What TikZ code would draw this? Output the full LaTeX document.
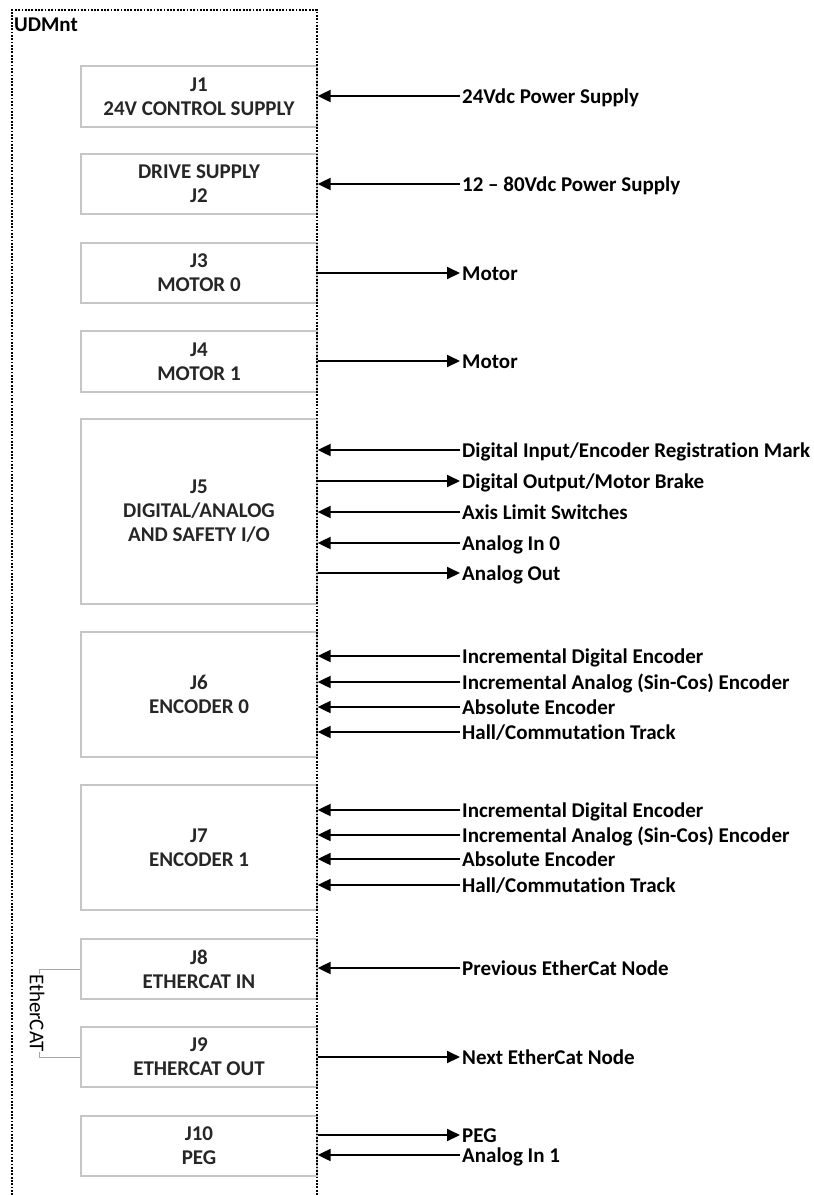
\documentclass[tikz,border=0pt]{standalone}
\usepackage{fontspec}
\setmainfont[Ligatures=NoCommon]{Carlito}
\usetikzlibrary{arrows.meta}

\tikzset{
  jbox/.style={draw=gray!45, line width=1.3pt, minimum width=236pt, inner sep=0pt,
    align=center, text=black!85},
  sig/.style={anchor=west, inner xsep=2pt, inner ysep=0pt, text height=14pt, text depth=0pt},
  wire/.style={line width=2pt, -{Triangle[length=13pt,width=12pt]}},
}

\begin{document}
\begin{tikzpicture}[x=1pt, y=-1pt, font=\fontsize{21}{24}\selectfont\bfseries]
                \useasboundingbox (0,0) rectangle (814,1195);

                % Connectors of the drive
                \node[jbox, minimum height=61pt]  (j1)  at (199,96.5)  {J1\\24V CONTROL SUPPLY};
                \node[jbox, minimum height=60pt]  (j2)  at (199,184)   {DRIVE SUPPLY\\J2};
                \node[jbox, minimum height=60pt]  (j3)  at (199,273)   {J3\\MOTOR 0};
                \node[jbox, minimum height=61pt]  (j4)  at (199,361.5) {J4\\MOTOR 1};
                \node[jbox, minimum height=185pt] (j5)  at (199,511.5) {J5\\DIGITAL/ANALOG\\AND SAFETY I/O};
                \node[jbox, minimum height=125pt] (j6)  at (199,694.5) {J6\\ENCODER 0};
                \node[jbox, minimum height=125pt] (j7)  at (199,847.5) {J7\\ENCODER 1};
                \node[jbox, minimum height=60pt]  (j8)  at (199,969)   {J8\\ETHERCAT IN};
                \node[jbox, minimum height=60pt]  (j9)  at (199,1057)  {J9\\ETHERCAT OUT};
                \node[jbox, minimum height=60pt]  (j10) at (199,1146)  {J10\\PEG};

                % Drive outline
                \draw[line width=1.8pt, dash pattern=on 1.8pt off 1.5pt]
                    (12,1195) -- (12,10) -- (317,10) -- (317,1195);
                \node[anchor=base west, inner sep=0pt] (udm) at (14,31) {UDMnt};

                % EtherCAT bracket
                \draw[gray!70, line width=1pt] (j8.west) -- ++(-41,0) |- (j9.west);
                \node[rotate=-90, fill=white, inner sep=0.5pt, font=\fontsize{21}{24}\selectfont]
                    (ecat) at (37,1013) {EtherCAT};

                % Signals going into the drive
                \foreach \n/\b/\y/\txt in {1/j1/96/{24Vdc Power Supply},
                                           2/j2/184/{12 – 80Vdc Power Supply},
                                           3/j5/450/{Digital Input/Encoder Registration Mark},
                                           4/j5/512/{Axis Limit Switches},
                                           5/j5/543/{Analog In 0},
                                           6/j6/656/{Incremental Digital Encoder},
                                           7/j6/682/{Incremental Analog (Sin-Cos) Encoder},
                                           8/j6/707/{Absolute Encoder},
                                           9/j6/732/{Hall/Commutation Track},
                                           10/j7/810/{Incremental Digital Encoder},
                                           11/j7/835/{Incremental Analog (Sin-Cos) Encoder},
                                           12/j7/859/{Absolute Encoder},
                                           13/j7/885/{Hall/Commutation Track},
                                           14/j8/968/{Previous EtherCat Node},
                                           15/j10/1155/{Analog In 1}}{
                    \node[sig] (in\n) at (460,\y) {\txt};
                    \draw[wire] (in\n.west) -- (\b.east |- in\n.west);
                }

                % Signals coming out of the drive
                \foreach \n/\b/\y/\txt in {1/j3/273/{Motor},
                                           2/j4/361/{Motor},
                                           3/j5/481/{Digital Output/Motor Brake},
                                           4/j5/573/{Analog Out},
                                           5/j9/1057/{Next EtherCat Node},
                                           6/j10/1135/{PEG}}{
                    \node[sig] (out\n) at (460,\y) {\txt};
                    \draw[wire] (\b.east |- out\n.west) -- (out\n.west);
                }

            \end{tikzpicture}
\end{document}
